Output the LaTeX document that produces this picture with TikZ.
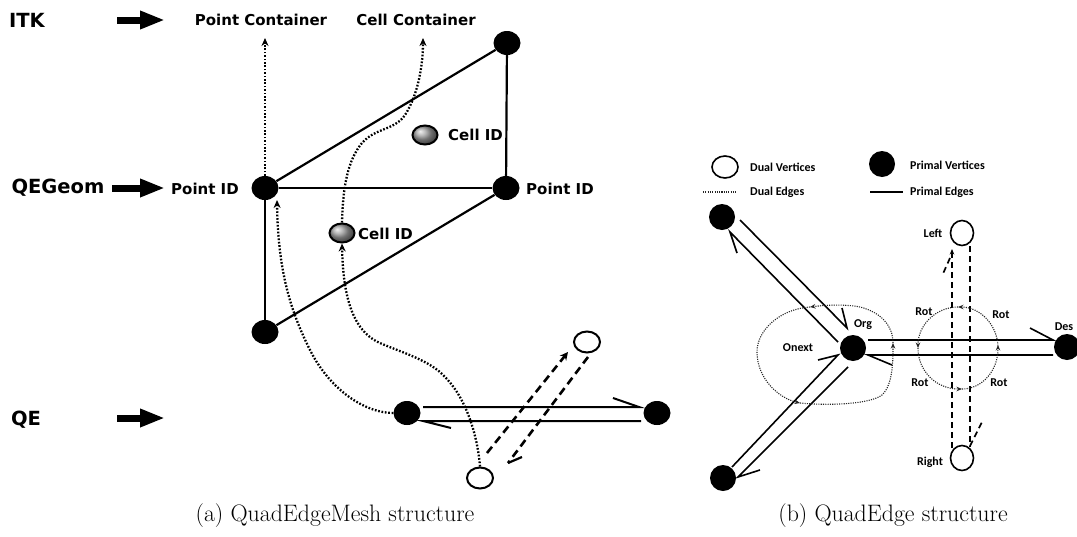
\documentclass[tikz,border=0pt]{standalone}
\usepackage{fontspec}
\usetikzlibrary{arrows.meta,shapes.geometric,calc}
\newfontfamily\dvsans{DejaVu Sans}
\newfontfamily\carl{Carlito}
\begin{document}
\begin{tikzpicture}[x=1pt,y=-1pt,
  big/.style={font=\dvsans\bfseries\fontsize{19.5}{20}\selectfont, inner sep=0},
  lbl/.style={font=\dvsans\bfseries\fontsize{15}{16}\selectfont, inner sep=0},
  rlbl/.style={font=\carl\bfseries\fontsize{12}{13}\selectfont, inner sep=0},
  captxt/.style={font=\fontsize{23.8}{26}\selectfont, inner sep=0, anchor=base},
  pv/.style={ellipse, fill=black, inner sep=0, minimum width=27pt, minimum height=24pt},
  rpv/.style={circle, fill=black, inner sep=0, minimum size=26pt},
  dv/.style={ellipse, draw=black, line width=2pt, fill=white, inner sep=0, minimum width=26pt, minimum height=21pt},
  rdv/.style={ellipse, draw=black, line width=1.6pt, fill=white, inner sep=0, minimum width=23pt, minimum height=25pt},
  cball/.style={ellipse, draw=black, line width=2pt, shading=ball, ball color=gray!75, inner sep=0, minimum width=25pt, minimum height=19pt},
  medge/.style={line width=2.2pt},
  qedge/.style={line width=2pt},
  dotl/.style={line width=2.3pt, dash pattern=on 1.7pt off 1.7pt},
  dtip/.style={-{Stealth[length=8pt,width=7pt]}},
  ldash/.style={line width=2.6pt, dash pattern=on 8pt off 5pt},
  blockarrow/.style={line width=7pt, -{Triangle[length=25pt,width=17pt]}},
  redge/.style={line width=1.6pt},
  rdot/.style={line width=1.1pt, black!85, dash pattern=on 1.1pt off 1.2pt},
  rtip/.style={-{Stealth[length=5.5pt,width=4.5pt]}},
  rdash/.style={line width=1.7pt, dash pattern=on 6pt off 4pt}
]
\useasboundingbox (0,0) rectangle (1077,536);

% ---------------- left panel: level labels
\node[big] (itk) at (27,20) {ITK};
\node[big] (qegeom) at (58,188) {QEGeom};
\node[big] (qe) at (26,420) {QE};
\coordinate (a1s) at (117,20);  \coordinate (a1e) at (165,20);
\coordinate (a2s) at (112,188); \coordinate (a2e) at (165,188);
\coordinate (a3s) at (117,418); \coordinate (a3e) at (165,418);
\draw[blockarrow] (a1s) -- (a1e);
\draw[blockarrow] (a2s) -- (a2e);
\draw[blockarrow] (a3s) -- (a3e);

\node[lbl] (pc) at (261,20) {Point Container};
\node[lbl] (cc) at (416,20) {Cell Container};
\node[lbl] (pid1) at (205,189) {Point ID};
\node[lbl] (pid2) at (560,189) {Point ID};

% mesh vertices
\node[pv] (A) at (265,188) {};
\node[pv] (B) at (507,43) {};
\node[pv] (C) at (506,188) {};
\node[pv] (D) at (265,332) {};
\draw[medge] (A) -- (B);
\draw[medge] (B) -- (C);
\draw[medge] (A) -- (C);
\draw[medge] (A) -- (D);
\draw[medge] (D) -- (C);

% cells
\node[cball] (c1) at (425,135) {};
\node[lbl, anchor=west] (cid1) at (448,135) {Cell ID};
\node[cball] (c2) at (342,233) {};
\node[lbl, anchor=west] (cid2) at (358,234) {Cell ID};

% QE level
\node[pv] (L) at (407,413) {};
\node[pv] (R) at (657,413) {};
\coordinate (qu1) at (423,407); \coordinate (qu2) at (639,407);
\coordinate (ql1) at (423,421); \coordinate (ql2) at (641,421);
\draw[qedge] (qu1) -- (qu2) -- +(-26,-9);
\draw[qedge] (ql2) -- (ql1) -- +(28,7);

\node[dv] (Tt) at (587,342) {};
\node[dv] (Bt) at (480,478) {};
\coordinate (d1s) at (487,453); \coordinate (d1e) at (568,352);
\coordinate (d2s) at (588,357); \coordinate (d2e) at (508,463);
\draw[ldash, -{Stealth[length=8pt,width=8pt]}] (d1s) -- (d1e);
\draw[ldash] (d2s) -- (d2e);
\draw[line width=2.2pt] (d2e) -- +(14,-6);

% dotted references
\coordinate (pcin) at (265,38);
\coordinate (ccin) at (423,38);
\coordinate (ain) at (277,200);
\draw[dotl, dtip] (A) -- (pcin);
\draw[dotl, dtip] (c2.north) .. controls (343,185) and (348,160) .. (362,143)
   .. controls (375,128) and (395,130) .. (405,115)
   .. controls (418,95) and (423,65) .. (ccin);
\draw[dotl, dtip] (Bt.north) .. controls (478,440) and (468,400) .. (445,377)
   .. controls (430,360) and (400,352) .. (380,343)
   .. controls (350,330) and (343,290) .. (c2.south);
\draw[dotl, dtip] (L.west) .. controls (365,413) and (330,390) .. (310,350)
   .. controls (290,310) and (278,270) .. (ain);

\node[captxt] (capa) at (335,521) {(a) QuadEdgeMesh structure};

% ---------------- right panel: legend
\node[rdv, minimum width=26pt, minimum height=22pt] (lgdv) at (725,167) {};
\node[rlbl, anchor=west] (lgdvt) at (750,167) {Dual Vertices};
\node[rpv] (lgpv) at (882,164) {};
\node[rlbl, anchor=west] (lgpvt) at (910,165) {Primal Vertices};
\coordinate (lde1) at (703,192); \coordinate (lde2) at (736,192);
\draw[rdot] (lde1) -- (lde2);
\node[rlbl, anchor=west] (lgdet) at (750,192) {Dual Edges};
\coordinate (lpe1) at (870,192); \coordinate (lpe2) at (903,192);
\draw[redge] (lpe1) -- (lpe2);
\node[rlbl, anchor=west] (lgpet) at (910,192) {Primal Edges};

% vertices
\node[rpv] (TL) at (722,217) {};
\node[rpv] (Org) at (853,348) {};
\node[rpv] (BL) at (723,478) {};
\node[rpv] (Des) at (1067,347) {};
\node[rdv] (Lft) at (962,233) {};
\node[rdv] (Rgt) at (962,458) {};

\node[rlbl] (orgt) at (863,325) {Org};
\node[rlbl] (dest) at (1064,327) {Des};
\node[rlbl] (onext) at (798,348) {Onext};
\node[rlbl] (leftt) at (933,233) {Left};
\node[rlbl] (rightt) at (930,462) {Right};
\node[rlbl] (rot1) at (924,312) {Rot};
\node[rlbl] (rot2) at (1001,315) {Rot};
\node[rlbl] (rot3) at (920,383) {Rot};
\node[rlbl] (rot4) at (999,383) {Rot};

% primal edges
\draw[redge] (740,220) -- (847,328) -- +(-5,-20);
\draw[redge] (737,253) -- (730,232) -- (838,342);
\draw[redge] (818,360) -- (838,355) -- (732,467);
\draw[redge] (848,367) -- (738,477) -- +(22,-7);
\draw[redge] (868,340) -- (1053,340) -- +(-23,-12);
\draw[redge] (1053,355) -- (868,355) -- +(24,10);

% dual edges
\draw[rdash, rtip] (952,448) -- (952,249);
\draw[rdash] (950,258) -- (942,276);
\draw[rdash] (970,246) -- (970,447);
\draw[rdash] (970,446) -- (983,420);

% Rot loop
\draw[rdot, rtip] (998,348) .. controls (998,325) and (980,307) .. (958,307);
\draw[rdot, rtip] (958,307) .. controls (936,307) and (918,325) .. (918,348);
\draw[rdot, rtip] (918,348) .. controls (918,371) and (936,389) .. (962,389);
\draw[rdot, rtip] (962,389) .. controls (982,389) and (998,371) .. (998,345);

% Onext loop
\draw[rdot, rtip] (893,343) .. controls (893,325) and (880,312) .. (860,307)
   .. controls (845,304) and (825,305) .. (810,307);
\draw[rdot, rtip] (810,307) .. controls (780,309) and (757,330) .. (757,352)
   .. controls (757,378) and (778,398) .. (800,403);
\draw[rdot, rtip] (800,403) .. controls (830,406) and (870,404) .. (882,395)
   .. controls (893,385) and (893,360) .. (893,343);

\node[captxt] (capb) at (893,521) {(b) QuadEdge structure};
\end{tikzpicture}
\end{document}
